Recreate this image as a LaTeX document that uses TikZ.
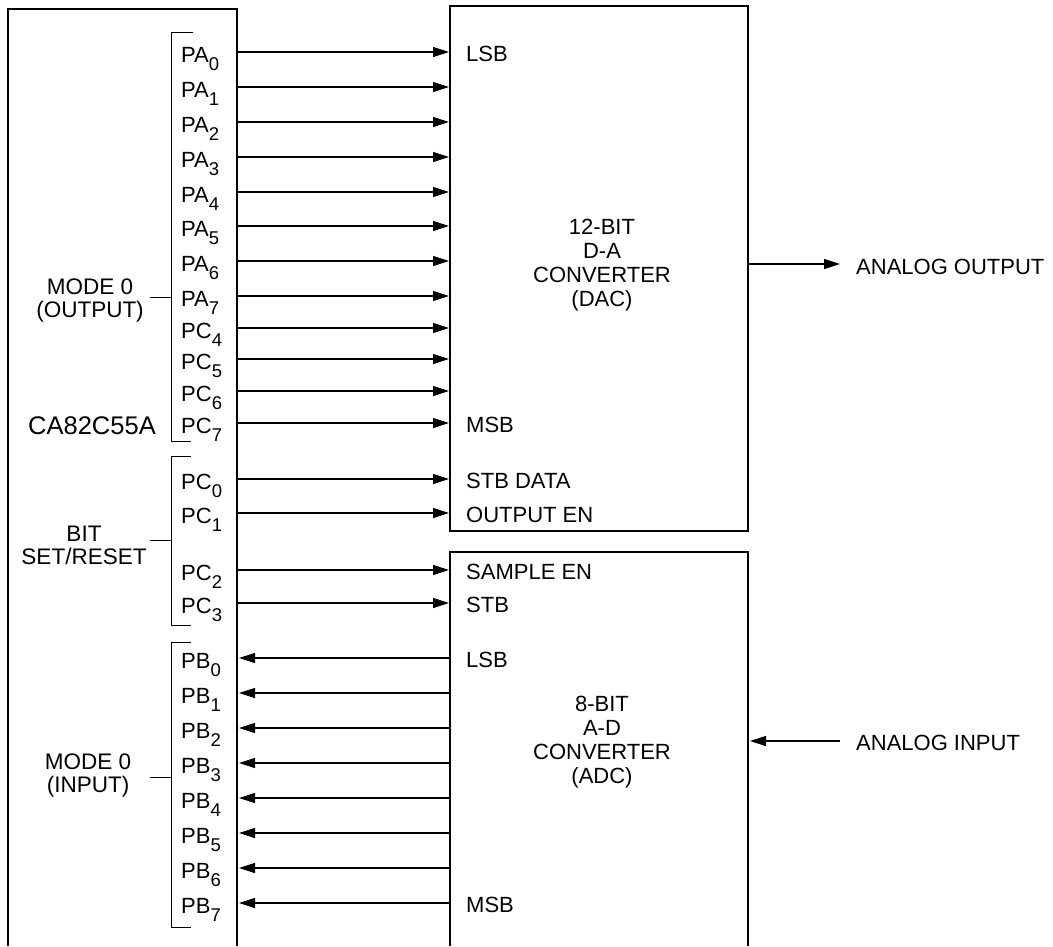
\documentclass[tikz,border=0pt]{standalone}
\usepackage{fontspec}
\setmainfont{Liberation Sans}
\usetikzlibrary{arrows.meta}

\newcommand{\pinname}[2]{#1\raisebox{-8.5pt}{\fontsize{18.5}{18.5}\selectfont #2}}

\begin{document}
\begin{tikzpicture}[x=1pt,y=-1pt,
    box/.style={line width=2pt},
    brk/.style={line width=1pt},
    sig/.style={line width=1.1pt,-{Triangle[length=16pt,width=10pt]}},
    pin/.style={anchor=base west,inner sep=0pt,font=\fontsize{22}{22}\selectfont},
    lbl/.style={align=center,inner sep=0pt,font=\fontsize{22.5}{23}\selectfont}]
  \useasboundingbox (0,0) rectangle (1053,946);

  % chip and converter outlines
  \draw[box] (8,946) -- (8,9) -- (237,9) -- (237,946);
  \draw[box] (450,6) rectangle (748,531);
  \draw[box] (450,946) -- (450,552) -- (748,552) -- (748,946);
  \coordinate (chipR) at (239,0);
  \coordinate (dacL) at (449,0);
  \coordinate (adcL) at (450,0);

  \node[lbl,font=\fontsize{25.5}{25.5}\selectfont,anchor=base] (chip) at (92,434) {CA82C55A};
  \node[lbl,font=\fontsize{22}{24}\selectfont] (dac) at (602,265) {12-BIT\\D-A\\CONVERTER\\(DAC)};
  \node[lbl,font=\fontsize{22}{24}\selectfont] (adc) at (602,742) {8-BIT\\A-D\\CONVERTER\\(ADC)};

  % port A and upper port C (outputs)
  \foreach \i/\y in {0/52,1/87,2/122,3/157,4/192,5/226,6/261,7/296} {
    \coordinate (pa\i) at (237,\y);
    \node[pin] (lpa\i) at (181,\y+10) {\pinname{PA}{\i}};
    \draw[sig] (pa\i) -- (pa\i -| dacL);
  }
  \foreach \i/\y in {4/328,5/359,6/391,7/423,0/479,1/513,2/570,3/603} {
    \coordinate (pc\i) at (237,\y);
    \node[pin] (lpc\i) at (181,\y+10) {\pinname{PC}{\i}};
    \draw[sig] (pc\i) -- (pc\i -| dacL);
  }
  % port B (inputs)
  \foreach \i/\y in {0/658,1/693,2/728,3/763,4/798,5/833,6/868,7/903} {
    \coordinate (pb\i) at (237,\y);
    \node[pin] (lpb\i) at (181,\y+10) {\pinname{PB}{\i}};
    \draw[sig] (pb\i -| adcL) -- (pb\i -| chipR);
  }

  % brackets
  \draw[brk] (193,32) -| (171,441) -- (191,441);
  \draw[brk] (191,456) -| (171,625) -- (191,625);
  \draw[brk] (191,642) -| (171,927) -- (191,927);
  \draw[brk] (150,297) -- (171,297);
  \draw[brk] (150,540) -- (171,540);
  \draw[brk] (150,777) -- (171,777);

  \node[lbl] (modeout) at (90,300) {MODE 0\\(OUTPUT)};
  \node[lbl] (bsr) at (84,545) {BIT\\SET/RESET};
  \node[lbl] (modein) at (88,775) {MODE 0\\(INPUT)};

  % converter pin names
  \node[pin] (dlsb) at (466,61) {LSB};
  \node[pin] (dmsb) at (466,432) {MSB};
  \node[pin] (stbd) at (466,488) {STB DATA};
  \node[pin] (oen) at (466,522) {OUTPUT EN};
  \node[pin] (sen) at (466,579) {SAMPLE EN};
  \node[pin] (stb) at (466,612) {STB};
  \node[pin] (alsb) at (466,667) {LSB};
  \node[pin] (amsb) at (466,912) {MSB};

  % analog side
  \coordinate (dacout) at (748,264);
  \coordinate (adcin) at (750,741);
  \node[pin] (aout) at (856,274) {ANALOG OUTPUT};
  \node[pin] (ain) at (856,750) {ANALOG INPUT};
  \draw[sig] (dacout) -- ++(92,0);
  \draw[sig] ([xshift=90pt]adcin) -- (adcin);
\end{tikzpicture}
\end{document}
